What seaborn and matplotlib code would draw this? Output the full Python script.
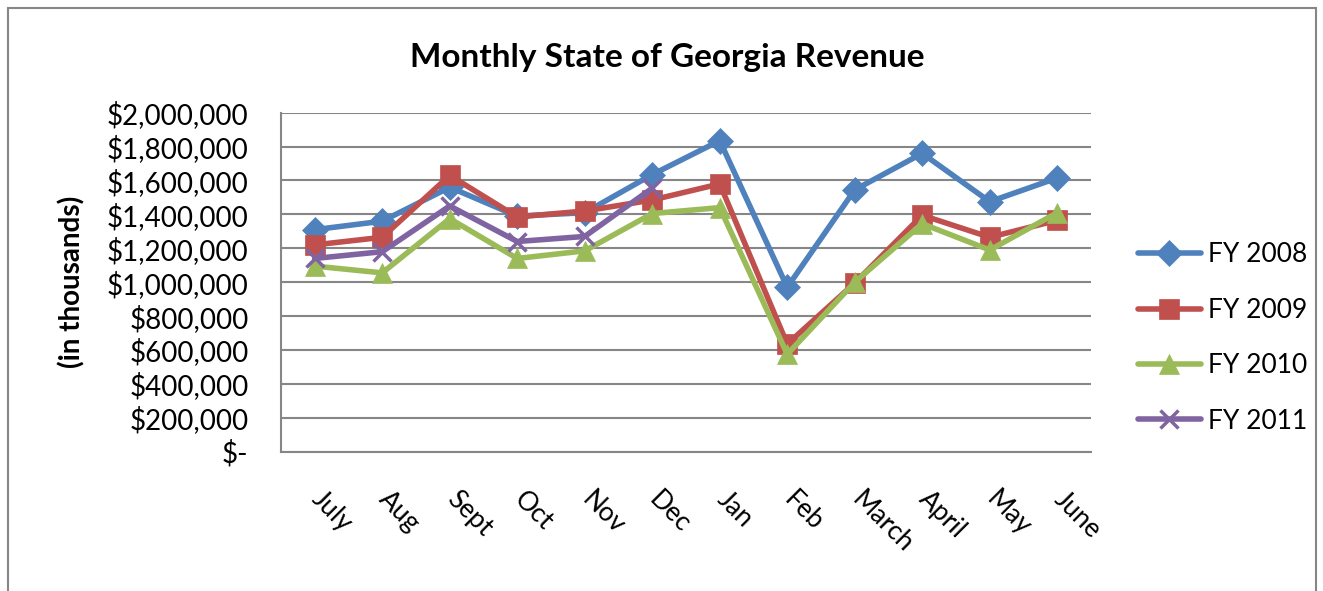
import numpy as np
import pandas as pd
import matplotlib
matplotlib.use("Agg")
import matplotlib.pyplot as plt
import matplotlib.transforms as mtransforms
from matplotlib.patches import Rectangle
from matplotlib.ticker import FuncFormatter, MultipleLocator
import seaborn as sns

months = ["July", "Aug", "Sept", "Oct", "Nov", "Dec", "Jan", "Feb", "March", "April", "May", "June"]
fy2008 = [1310000, 1360000, 1560000, 1390000, 1410000, 1635000, 1835000, 970000, 1545000, 1760000, 1475000, 1615000]
fy2009 = [1220000, 1265000, 1630000, 1385000, 1420000, 1485000, 1580000, 635000, 995000, 1395000, 1265000, 1365000]
fy2010 = [1095000, 1055000, 1375000, 1140000, 1185000, 1405000, 1440000, 575000, 1000000, 1345000, 1190000, 1410000]
fy2011 = [1140000, 1180000, 1450000, 1240000, 1270000, 1555000, np.nan, np.nan, np.nan, np.nan, np.nan, np.nan]

series_names = ["FY 2008", "FY 2009", "FY 2010", "FY 2011"]
series_values = [fy2008, fy2009, fy2010, fy2011]
colors = ["#4F81BD", "#C0504D", "#9BBB59", "#8064A2"]
markers = ["D", "s", "^", "x"]
msizes = [13, 15, 15, 13]

sns.set_theme(style="white")
plt.rcParams["font.family"] = ["Lato", "DejaVu Sans"]
plt.rcParams["text.color"] = "black"
plt.rcParams["axes.labelcolor"] = "black"

fig = plt.figure(figsize=(13.23, 5.91), dpi=100)
W, H = 1323, 591
ax = fig.add_axes([281 / W, 1 - 451.7 / H, (1091 - 281) / W, (451.7 - 112.7) / H])

x = np.arange(len(months))
for name, vals, c, m, ms in zip(series_names, series_values, colors, markers, msizes):
    df = pd.DataFrame({"x": x, "y": vals}).dropna()
    kw = dict(markeredgewidth=2.5, markeredgecolor=c) if m == "x" else dict(markeredgewidth=0.5, markeredgecolor=c)
    sns.lineplot(data=df, x="x", y="y", ax=ax, color=c, marker=m, markersize=ms,
                 linewidth=4, label=name, legend=False, zorder=3, **kw)

ax.set_xlim(-0.5, len(months) - 0.5)
ax.set_ylim(0, 2000000)
ax.yaxis.set_major_locator(MultipleLocator(200000))
ax.yaxis.set_major_formatter(FuncFormatter(lambda v, p: "$-" if v == 0 else "${:,.0f}".format(v)))
ax.grid(axis="y", color="#868686", linewidth=1.5)
ax.grid(axis="x", visible=False)
ax.set_axisbelow(True)
for s in ["top", "right"]:
    ax.spines[s].set_visible(False)
for s in ["left", "bottom"]:
    ax.spines[s].set_color("#868686")
    ax.spines[s].set_linewidth(1.5)
ax.set_xlabel("")
ax.set_ylabel("(in thousands)", fontsize=20, fontweight="bold", labelpad=15, color="black")
ax.tick_params(axis="y", length=0, labelsize=20, pad=23.5, colors="black")
ax.tick_params(axis="x", length=0, labelsize=19, pad=25, colors="black")
ax.set_xticks(x)
ax.set_xticklabels(months, rotation=-45, ha="left", va="top")
offset = mtransforms.ScaledTranslation(-8 / 100, 0, fig.dpi_scale_trans)
for lab in ax.get_xticklabels():
    lab.set_transform(lab.get_transform() + offset)

fig.text(667 / W, 1 - 57 / H, "Monthly State of Georgia Revenue", ha="center", va="center",
         fontsize=24, fontweight="bold", color="black")

handles, labels = ax.get_legend_handles_labels()
leg = fig.legend(handles, labels, loc="center left", bbox_to_anchor=(1114 / W, 1 - 338 / H),
                 frameon=False, fontsize=19, handlelength=2.4, labelspacing=1.15, handletextpad=0.25)
for t in leg.get_texts():
    t.set_color("black")

fig.patches.append(Rectangle((8 / W, -0.02), (1316 - 8) / W, 1 - 8 / H + 0.02, transform=fig.transFigure,
                             fill=False, edgecolor="#868686", linewidth=1.5))

fig.savefig("out.png", dpi=100, facecolor="white")
